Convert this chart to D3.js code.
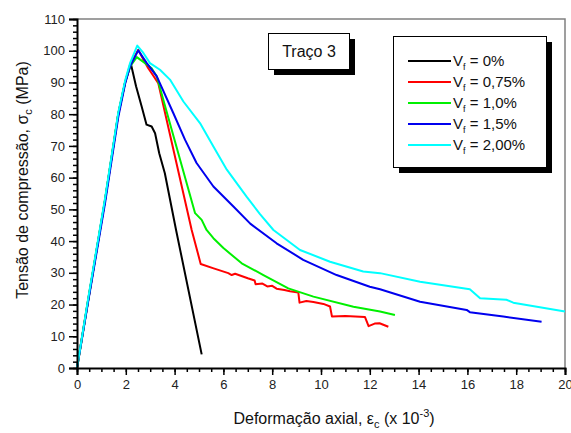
<!DOCTYPE html>
<html><head><meta charset="utf-8">
<script src="https://cdn.jsdelivr.net/npm/d3@7"></script>
<style>body{margin:0;background:#fff}svg{display:block;font-family:"Liberation Sans",Arial,sans-serif}</style>
</head><body><svg id="c" width="571" height="433"></svg>
<script>
// ---- data ----
const xTicks = [0,2,4,6,8,10,12,14,16,18,20];
const yTicks = [0,10,20,30,40,50,60,70,80,90,100,110];
const seriesNames = ["0%","0,75%","1,0%","1,5%","2,00%"];
const seriesColors = ["#000000","#ff0000","#00f000","#0000ee","#00ffff"];

const x0 = [0,0.46,1.15,1.69,1.97,2.21,2.42,2.65,2.85,3.06,3.2,3.37,3.6,4.06,5.11];
const y0 = [0,21.5,53,80,90,95.8,88.8,82.4,76.7,76.1,74,67.7,61.4,43.5,4.3];

const x075 = [0,0.46,1.15,1.69,1.97,2.17,2.51,2.7,2.92,3.06,3.33,4.7,5.07,5.6,6.2,6.34,6.48,7.0,7.28,7.32,7.6,7.8,8.0,8.18,8.5,8.73,9.07,9.12,9.4,9.69,10.1,10.37,10.45,11.0,11.8,11.95,12.2,12.4,12.76];
const y075 = [0,21.5,53,80,90,95.5,100.3,97.5,94.5,92.9,89.8,43.5,32.8,31.4,29.9,29.3,29.7,28.3,27.6,26.4,26.6,25.7,25.9,25.0,24.6,24.2,23.8,20.6,21.1,20.8,20.2,19.4,16.2,16.4,16.1,13.2,14.0,14.1,13.0];

const x10 = [0,0.46,1.15,1.69,1.97,2.17,2.45,2.79,3.06,3.27,4.84,5.11,5.31,5.59,6.0,6.75,7.64,8.66,9.69,11.33,12.42,13.03];
const y10 = [0,21.5,53,80,90,95,98,96.1,94.5,91.9,48.8,46.7,43.5,40.9,37.8,33.0,29.3,25.1,22.5,19.3,17.8,16.7];

const x15 = [0,0.46,1.15,1.69,1.97,2.17,2.51,2.86,3.27,3.95,4.43,4.9,5.59,6.41,7.1,8.18,9.27,10.64,12.0,12.42,14.06,15.97,16.1,17.47,19.04];
const y15 = [0,21,52,79,89.5,95,100.1,96.1,91.9,80.3,71.9,64.6,57.2,50.9,45.5,39.3,34.1,29.3,25.6,24.8,20.9,18.3,17.6,16.2,14.6];

const x20 = [0,0.46,1.15,1.69,1.97,2.17,2.47,2.72,2.99,3.4,3.81,4.36,5.04,5.59,6.14,6.95,7.5,8.05,9.14,10.37,11.73,12.42,14.06,16.1,16.52,17.6,17.88,20.0];
const y20 = [0,22,53.5,80.5,90.5,96,101.6,99.3,96.1,94.0,90.9,84.0,77.2,69.8,62.5,54.0,48.5,43.5,37.2,33.5,30.4,29.9,27.2,24.8,22.0,21.5,20.6,17.8];

const allX = [x0,x075,x10,x15,x20];
const allY = [y0,y075,y10,y15,y20];

// ---- layout ----
const L = 77, R = 565, T = 19, B = 368;
const svg = d3.select("#c");
const x = d3.scaleLinear().domain([0,20]).range([L,R]);
const y = d3.scaleLinear().domain([0,110]).range([B,T]);

// frame (top / right, gray)
svg.append("path").attr("d",`M${L},${T}H${R}V${B}`).attr("fill","none").attr("stroke","#808080").attr("stroke-width",1.5);

// series
const line = d3.line().x(d=>x(d[0])).y(d=>y(d[1]));
allX.forEach((xs,i)=>{
  const pts = xs.map((v,j)=>[v, allY[i][j]]);
  svg.append("path").attr("d",line(pts)).attr("fill","none")
    .attr("stroke",seriesColors[i]).attr("stroke-width",2).attr("stroke-linejoin","round");
});

// axes
const minorX = d3.range(0,20.001,0.5);
const minorY = d3.range(0,110.001,2);
const gx = svg.append("g").attr("transform",`translate(0,${B})`);
gx.call(d3.axisBottom(x).tickValues(minorX).tickSize(4).tickFormat(""));
gx.call(g=>g.select(".domain").remove());
const gx2 = svg.append("g").attr("transform",`translate(0,${B})`)
  .call(d3.axisBottom(x).tickValues(xTicks).tickSize(7).tickPadding(5).tickFormat(d3.format("d")));
gx2.selectAll("text").attr("font-size",13).attr("fill","#222").attr("font-family","Liberation Sans, Arial, sans-serif");

const gy = svg.append("g").attr("transform",`translate(${L},0)`);
gy.call(d3.axisLeft(y).tickValues(minorY).tickSize(4).tickFormat(""));
gy.call(g=>g.select(".domain").remove());
const gy2 = svg.append("g").attr("transform",`translate(${L},0)`)
  .call(d3.axisLeft(y).tickValues(yTicks).tickSize(8).tickPadding(4).tickFormat(d3.format("d")));
gy2.selectAll("text").attr("font-size",13).attr("fill","#222").attr("font-family","Liberation Sans, Arial, sans-serif");
svg.selectAll(".domain").attr("stroke","#000").attr("stroke-width",2);
svg.selectAll(".tick line").attr("stroke","#000").attr("stroke-width",1.5);

// axis titles
const xt = svg.append("text").attr("x",334).attr("y",424).attr("text-anchor","middle")
  .attr("font-size",16).attr("fill","#111");
xt.append("tspan").text("Deformação axial, ε");
xt.append("tspan").attr("font-size",11).attr("dy",4).text("c");
xt.append("tspan").attr("dy",-4).text(" (x 10");
xt.append("tspan").attr("font-size",11).attr("dy",-7).text("-3");
xt.append("tspan").attr("dy",7).text(")");

const yt = svg.append("text").attr("transform","translate(28,180) rotate(-90)").attr("text-anchor","middle")
  .attr("font-size",16).attr("fill","#111");
yt.append("tspan").text("Tensão de compressão, σ");
yt.append("tspan").attr("font-size",11).attr("dy",4).text("c");
yt.append("tspan").attr("dy",-4).text(" (MPa)");

// "Traço 3" box
svg.append("rect").attr("x",274).attr("y",39).attr("width",81).attr("height",36).attr("fill","#000");
svg.append("rect").attr("x",268.5).attr("y",33.5).attr("width",81).attr("height",36).attr("fill","#fff").attr("stroke","#000").attr("stroke-width",1);
svg.append("text").attr("x",309).attr("y",57).attr("text-anchor","middle").attr("font-size",16).attr("fill","#111").text("Traço 3");

// legend
svg.append("rect").attr("x",399).attr("y",42).attr("width",153).attr("height",131).attr("fill","#000");
svg.append("rect").attr("x",393.5).attr("y",36.5).attr("width",153).attr("height",131).attr("fill","#fff").attr("stroke","#000").attr("stroke-width",1);
seriesNames.forEach((n,i)=>{
  const yy = 61 + i*21;
  svg.append("line").attr("x1",408).attr("x2",451).attr("y1",yy).attr("y2",yy)
    .attr("stroke",seriesColors[i]).attr("stroke-width",2);
  const t = svg.append("text").attr("x",453).attr("y",yy+5).attr("font-size",15).attr("fill","#111");
  t.append("tspan").text("V");
  t.append("tspan").attr("font-size",9).attr("dy",4).text("f");
  t.append("tspan").attr("dy",-4).text(" = " + n);
});
</script></body></html>
